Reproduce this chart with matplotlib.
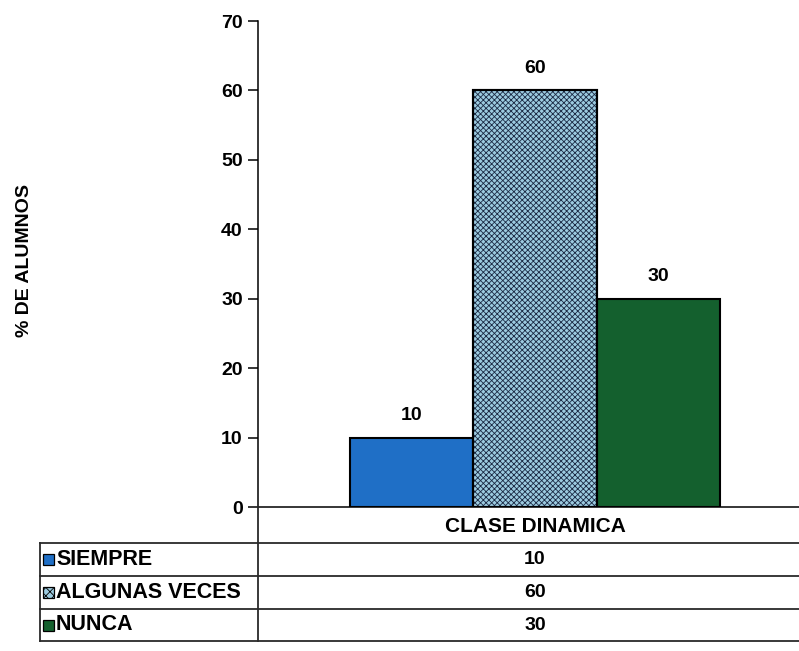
import numpy as np
import matplotlib.pyplot as plt
from matplotlib.lines import Line2D
from matplotlib.patches import Rectangle

plt.rcParams['font.family'] = ['Liberation Sans', 'DejaVu Sans']
plt.rcParams['font.weight'] = 'bold'
plt.rcParams['hatch.linewidth'] = 0.6

category = 'CLASE DINAMICA'
series = ['SIEMPRE', 'ALGUNAS VECES', 'NUNCA']
values = [10, 60, 30]
colors = ['#1f6fc6', '#9ccbe0', '#14602e']
hatches = [None, 'xxxxxx', None]
yticks = [0, 10, 20, 30, 40, 50, 60, 70]

W, H = 799, 651
fig = plt.figure(figsize=(W / 100, H / 100), dpi=100)

# plot area in pixel coordinates
x0, x1, y0, y1 = 258, 799, 507, 21
ax = fig.add_axes([x0 / W, 1 - y0 / H, (x1 - x0) / W, (y0 - y1) / H])

bw = 123.5
center = 535
offsets = np.array([-1, 0, 1])
for i, (v, c, h) in enumerate(zip(values, colors, hatches)):
    ax.bar(offsets[i], v, width=1.0, color=c, edgecolor='black', linewidth=1.5,
           hatch=h, zorder=3)
    if h:
        ax.patches[-1].set_edgecolor('#1b2a44')
        ax.bar(offsets[i], v, width=1.0, fill=False, edgecolor='black',
               linewidth=1.5, zorder=4)
    ax.text(offsets[i], v + 2.0, str(v), ha='center', va='bottom',
            fontsize=14, fontweight='bold')

ax.set_xlim((x0 - center) / bw, (x1 - center) / bw)
ax.set_ylim(0, 70)
ax.set_yticks(yticks)
ax.set_yticklabels([str(t) for t in yticks], fontsize=14, fontweight='bold')
ax.set_xticks([])
for s in ['top', 'right']:
    ax.spines[s].set_visible(False)
ax.spines['left'].set_linewidth(1.1)
ax.spines['bottom'].set_linewidth(1.1)
ax.tick_params(axis='y', length=7, width=1.1, pad=4)

fig.text(25 / W, 1 - 261 / H, '% DE ALUMNOS', rotation=90, ha='center',
         va='center', fontsize=14, fontweight='bold')

# data table under the plot
def px(x, y):
    return x / W, 1 - y / H

def hline(xa, xb, y, lw=1.3):
    fig.add_artist(Line2D([xa / W, xb / W], [1 - y / H, 1 - y / H],
                          color='#2a2a2a', linewidth=lw))

def vline(x, ya, yb, lw=1.3):
    fig.add_artist(Line2D([x / W, x / W], [1 - ya / H, 1 - yb / H],
                          color='#2a2a2a', linewidth=lw))

row_edges = [543, 576, 609, 641]
for y in row_edges:
    hline(40, 799, y)
vline(258, 507, 641)
vline(40, 543, 641)

tx, ty = px(center, 526)
fig.text(tx, ty, category, ha='center', va='center', fontsize=15,
         fontweight='bold')

for i, name in enumerate(series):
    ymid = (row_edges[i] + row_edges[i + 1]) / 2
    sx, sy = px(43, ymid + 5.5)
    fig.add_artist(Rectangle((sx, sy), 11 / W, 11 / H, facecolor=colors[i],
                             edgecolor='black', linewidth=0.9,
                             hatch='xxxx' if hatches[i] else None,
                             transform=fig.transFigure))
    lx, ly = px(56, ymid)
    fig.text(lx, ly, name, ha='left', va='center', fontsize=15.5,
             fontweight='bold')
    vx, vy = px(center, ymid)
    fig.text(vx, vy, str(values[i]), ha='center', va='center', fontsize=14,
             fontweight='bold')

fig.savefig('out.png', dpi=100, facecolor='white')
